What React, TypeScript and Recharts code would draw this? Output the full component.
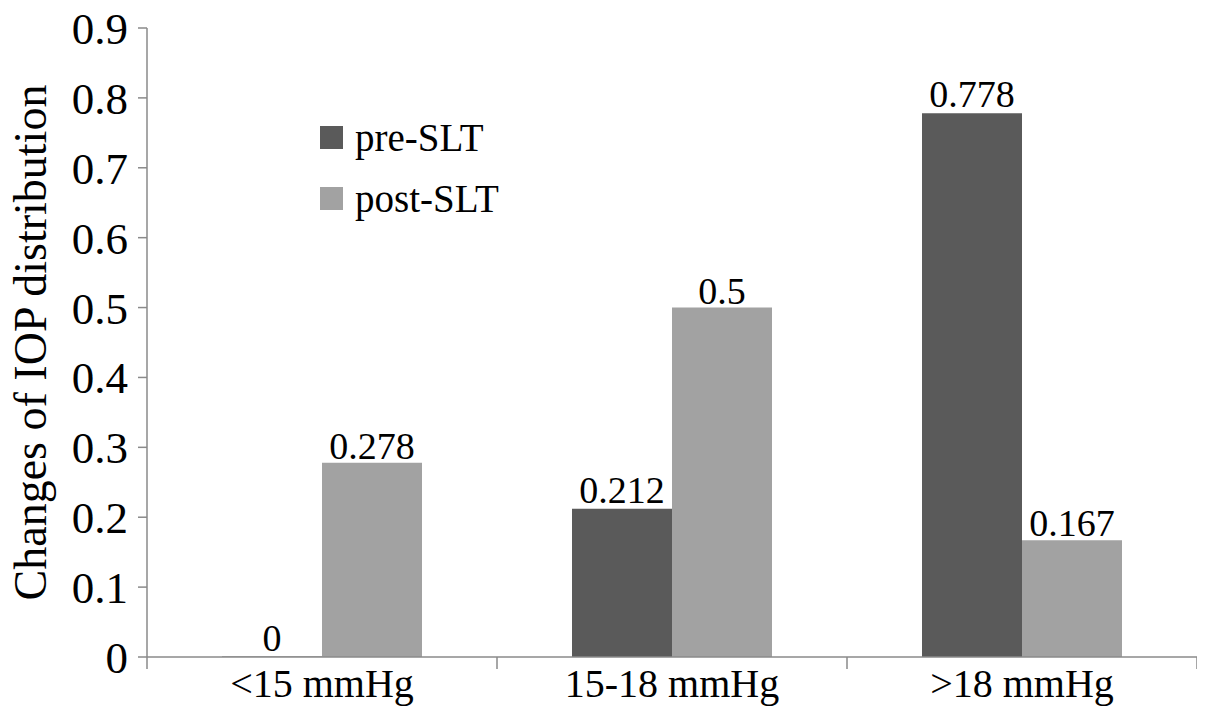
import { BarChart, Bar, XAxis, YAxis, Legend, LabelList } from "recharts"

const categories = ["<15 mmHg", "15-18 mmHg", ">18 mmHg"]
const preSLT = [0, 0.212, 0.778]
const postSLT = [0.278, 0.5, 0.167]
const yTicks = [0, 0.1, 0.2, 0.3, 0.4, 0.5, 0.6, 0.7, 0.8, 0.9]
const seriesOrder = ["pre-SLT", "post-SLT"]

const data = categories.map((name, i) => ({ name, pre: preSLT[i], post: postSLT[i] }))

const PRE = "#5a5a5a"
const POST = "#a2a2a2"
const AXIS = "#8a8a8a"
const FONT = "'Liberation Serif', 'Times New Roman', serif"
const X_TICK_MARGIN = 12

// category label plus tick marks at the category boundaries (like Excel)
const CategoryTick = (props: any) => {
    const { x, y, payload, index } = props
    const half = payload?.offset ?? 0
    const y0 = y - X_TICK_MARGIN
    return (
        <g>
            <line x1={x - half} x2={x - half} y1={y0} y2={y0 + 12} stroke={AXIS} strokeWidth={1.5} />
            {index === categories.length - 1 && (
                <line x1={x + half} x2={x + half} y1={y0} y2={y0 + 12} stroke={AXIS} strokeWidth={1.5} />
            )}
            <text x={x} y={y} dy="0.71em" textAnchor="middle" fill="#000" fontSize={40} fontFamily={FONT}>
                {payload.value}
            </text>
        </g>
    )
}

const LegendBox = (props: any) => {
    const items = [...(props.payload || [])].sort(
        (a: any, b: any) => seriesOrder.indexOf(a.value) - seriesOrder.indexOf(b.value)
    )
    return (
        <div style={{ fontFamily: FONT }}>
            {items.map((it: any) => (
                <div key={it.value} style={{ display: "flex", alignItems: "center", height: 61 }}>
                    <div style={{ width: 23, height: 23, background: it.color, marginRight: 12 }} />
                    <span style={{ fontSize: 39, color: "#000", lineHeight: "39px" }}>{it.value}</span>
                </div>
            ))}
        </div>
    )
}

const App = () => {
    return (
        <div style={{ position: "relative", left: -8, top: -8, width: 1205, height: 720 }}>
            <BarChart
                width={1205}
                height={720}
                data={data}
                margin={{ top: 28, right: 8, left: 0, bottom: 0 }}
                barCategoryGap={75}
                barGap={0}
                style={{ fontFamily: FONT }}
            >
                <XAxis
                    dataKey="name"
                    height={63}
                    tickLine={false}
                    tickSize={0}
                    tickMargin={X_TICK_MARGIN}
                    interval={0}
                    axisLine={{ stroke: AXIS, strokeWidth: 1.5 }}
                    tick={<CategoryTick />}
                />
                <YAxis
                    width={147}
                    domain={[0, 0.9]}
                    ticks={yTicks}
                    interval={0}
                    tickSize={9}
                    tickMargin={10}
                    axisLine={{ stroke: AXIS, strokeWidth: 1.5 }}
                    tickLine={{ stroke: AXIS, strokeWidth: 1.5 }}
                    tick={{ fill: "#000", fontSize: 45, fontFamily: FONT }}
                    label={{
                        value: "Changes of IOP distribution",
                        angle: -90,
                        position: "insideLeft",
                        offset: 30,
                        style: { textAnchor: "middle", fontSize: 46, fill: "#000", fontFamily: FONT },
                    }}
                />
                <Legend
                    layout="vertical"
                    align="center"
                    verticalAlign="middle"
                    content={<LegendBox />}
                    wrapperStyle={{ left: 320, top: 107, width: "auto" }}
                />
                <Bar dataKey="pre" name="pre-SLT" fill={PRE} minPointSize={0.5} isAnimationActive={false}>
                    <LabelList dataKey="pre" position="top" offset={6} style={{ fontSize: 38, fill: "#000", fontFamily: FONT }} />
                </Bar>
                <Bar dataKey="post" name="post-SLT" fill={POST} isAnimationActive={false}>
                    <LabelList dataKey="post" position="top" offset={4} style={{ fontSize: 38, fill: "#000", fontFamily: FONT }} />
                </Bar>
            </BarChart>
        </div>
    )
}

export default App
